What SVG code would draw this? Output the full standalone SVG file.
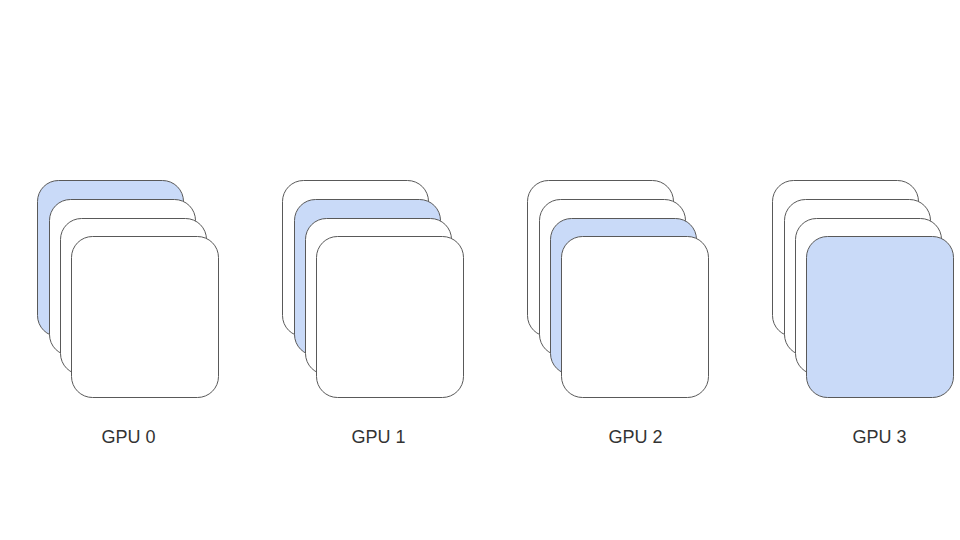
<svg xmlns="http://www.w3.org/2000/svg" width="960" height="540" viewBox="0 0 960 540">
<style>
.c{fill:#ffffff;stroke:#595959;stroke-width:1}
.b{fill:#c9daf8;stroke:#595959;stroke-width:1}
.t{font-family:"Liberation Sans",Arial,sans-serif;font-size:18px;fill:#333333;text-anchor:middle}
</style>
<rect width="960" height="540" fill="#ffffff"/>
<g id="gpu0">
<rect class="b" x="37.5" y="180.5" width="146" height="156" rx="21"/>
<rect class="c" x="49.5" y="199.5" width="146" height="156" rx="21"/>
<rect class="c" x="60.5" y="218.5" width="146" height="156" rx="21"/>
<rect class="c" x="71.5" y="236.5" width="147" height="161" rx="21"/>
<text class="t" x="128.5" y="443">GPU 0</text>
</g>
<g id="gpu1">
<rect class="c" x="282.5" y="180.5" width="146" height="156" rx="21"/>
<rect class="b" x="294.5" y="199.5" width="146" height="156" rx="21"/>
<rect class="c" x="305.5" y="218.5" width="146" height="156" rx="21"/>
<rect class="c" x="316.5" y="236.5" width="147" height="161" rx="21"/>
<text class="t" x="378.5" y="443">GPU 1</text>
</g>
<g id="gpu2">
<rect class="c" x="527.5" y="180.5" width="146" height="156" rx="21"/>
<rect class="c" x="539.5" y="199.5" width="146" height="156" rx="21"/>
<rect class="b" x="550.5" y="218.5" width="146" height="156" rx="21"/>
<rect class="c" x="561.5" y="236.5" width="147" height="161" rx="21"/>
<text class="t" x="635.5" y="443">GPU 2</text>
</g>
<g id="gpu3">
<rect class="c" x="772.5" y="180.5" width="146" height="156" rx="21"/>
<rect class="c" x="784.5" y="199.5" width="146" height="156" rx="21"/>
<rect class="c" x="795.5" y="218.5" width="146" height="156" rx="21"/>
<rect class="b" x="806.5" y="236.5" width="147" height="161" rx="21"/>
<text class="t" x="879.5" y="443">GPU 3</text>
</g>
</svg>
